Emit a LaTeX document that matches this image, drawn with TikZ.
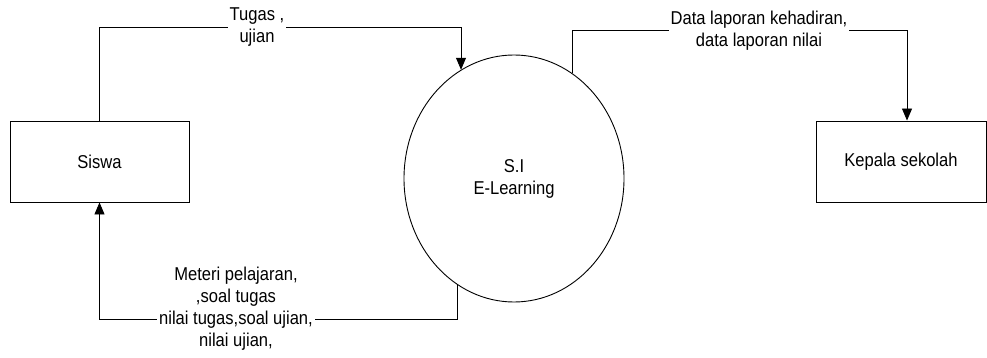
\documentclass[tikz,border=0pt]{standalone}
\usepackage{fontspec}
\setmainfont{Liberation Sans}[FakeStretch=0.89]
\usetikzlibrary{shapes.geometric,arrows.meta}

\begin{document}
\begin{tikzpicture}[x=1pt, y=-1pt, line width=0.9pt,
        font=\fontsize{18.6}{22}\selectfont,
        entity/.style={rectangle, draw, minimum width=179pt, minimum height=81pt, inner sep=0pt},
        process/.style={ellipse, draw, minimum width=220pt, minimum height=247pt, inner sep=0pt, align=center},
        flow/.style={-{Triangle[width=10pt,length=12pt]}},
        flowlabel/.style={fill=white, inner sep=2pt, align=center}]
        \useasboundingbox (0,0) rectangle (987,358);

        \node[style=entity] (siswa) at (99.5, 161.5) {Siswa};
        \node[style=entity, minimum width=170pt] (kepala) at (901, 161.5) {Kepala sekolah};
        \node[style=process] (sil) at (514, 178.5) {S.I\\E-Learning};

        \coordinate (tugasbend) at (461, 27);
        \coordinate (laporanstart) at (572, 30);
        \coordinate (laporanbend) at (907, 30);
        \coordinate (materibend) at (457, 319);

        \draw[flow] (siswa.north) |- (tugasbend) -- (tugasbend |- sil.116);
        \draw[flow] (laporanstart |- sil.61) -- (laporanstart) -- (laporanbend) -- (laporanbend |- kepala.north);
        \draw[flow] (materibend |- sil.242) -- (materibend) -| (siswa.south);

        \node[style=flowlabel] (tugas) at (257, 27) {Tugas ,\\ujian};
        \node[style=flowlabel] (laporan) at (759, 31) {Data laporan kehadiran,\\data laporan nilai};
        \node[style=flowlabel] (materi) at (236, 309) {Meteri pelajaran,\\,soal tugas\\nilai tugas,soal ujian,\\nilai ujian,};
    \end{tikzpicture}
\end{document}
